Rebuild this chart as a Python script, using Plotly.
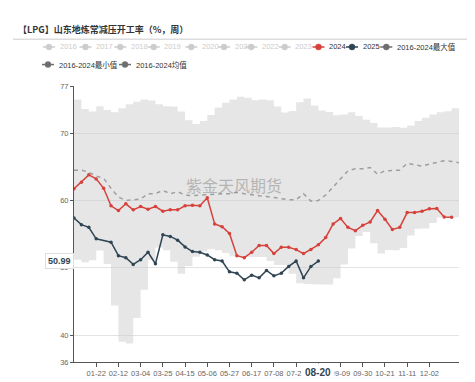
import plotly.graph_objects as go

# ---------------- data ----------------
weeks = list(range(53))  # weekly categories 01-01 ... 12-30

tick_idx = [3, 6, 9, 12, 15, 18, 21, 24, 27, 30, 33, 36, 39, 42, 45, 48]
tick_labels = ["01-22", "02-12", "03-04", "03-25", "04-15", "05-06", "05-27", "06-17",
               "07-08", "07-29", "", "09-09", "09-30", "10-21", "11-11", "12-02"]

max_2016_2024 = [75.0, 75.0, 72.2, 74.2, 73.8, 73.1, 73.1, 74.3, 74.3, 75.0,
                 75.0, 74.7, 73.9, 74.1, 73.8, 72.6, 71.2, 71.5, 72.1, 73.3,
                 74.3, 74.7, 75.3, 75.5, 75.0, 74.8, 75.2, 74.6, 73.3, 72.8,
                 73.8, 75.4, 74.9, 73.3, 73.4, 72.9, 72.4, 73.1, 73.1, 72.0,
                 72.0, 71.0, 70.7, 71.0, 70.8, 70.8, 71.5, 72.1, 72.5, 73.0,
                 73.2, 73.3, 74.1]

min_2016_2024 = [51.2, 51.2, 50.4, 51.8, 53.3, 47.8, 41.0, 37.0, 40.5, 44.6,
                 48.9, 53.4, 52.6, 52.6, 49.2, 49.0, 51.5, 51.8, 53.0, 52.6,
                 52.6, 51.8, 51.6, 51.6, 51.6, 51.6, 51.6, 50.4, 50.4, 50.4,
                 47.8, 47.6, 47.6, 47.5, 47.5, 47.5, 49.4, 51.6, 54.1, 55.3,
                 55.3, 52.0, 52.2, 53.1, 52.1, 53.8, 55.8, 55.8, 55.9, 57.4,
                 57.5, 57.5, 57.5]

avg_2016_2024 = [64.5, 64.5, 64.2, 63.6, 63.3, 61.8, 60.5, 60.0, 60.1, 60.2,
                 61.0, 61.0, 61.5, 61.0, 61.3, 60.8, 60.7, 60.8, 60.8, 60.9,
                 61.0, 61.0, 61.2, 61.0, 60.8, 60.7, 60.6, 60.4, 60.3, 60.1,
                 60.1, 61.0, 59.9, 60.0, 60.8, 62.0, 63.2, 64.4, 64.7, 64.7,
                 64.9, 63.9, 64.4, 64.4, 64.5, 65.5, 65.3, 65.1, 65.4, 65.7,
                 65.9, 65.8, 65.6]

y2024 = [61.75, 62.7, 63.8, 63.2, 61.8, 59.2, 58.5, 59.5, 58.6, 59.1,
         58.7, 59.1, 58.4, 58.6, 58.6, 59.2, 59.3, 59.2, 60.4, 56.5,
         56.1, 55.1, 51.8, 51.5, 52.3, 53.3, 53.3, 52.1, 53.05, 53.05,
         52.7, 52.1, 52.7, 53.4, 54.5, 56.5, 57.3, 56.0, 55.5, 56.3,
         56.8, 58.5, 57.2, 55.7, 56.0, 58.2, 58.2, 58.4, 58.75, 58.8,
         57.55, 57.5]

y2025 = [57.4, 56.4, 56.0, 54.3, None, 53.8, 51.8, 51.5, 50.5, 51.2,
         52.3, 50.6, 54.9, 54.65, 54.1, 53.1, 52.4, 52.3, 51.9, 51.2,
         51.0, 49.4, 49.2, 48.2, 48.9, 48.5, 49.6, 48.8, 49.2, 50.2,
         51.0, 48.5, 50.2, 50.99]

pointer_value = 50.99
pointer_label = "08-20"
pointer_index = 33

y_ticks = [36, 40, 50, 60, 70, 77]

legend_names = ["2016", "2017", "2018", "2019", "2020", "2021", "2022", "2023",
                "2024", "2025", "2016-2024最大值", "2016-2024最小值", "2016-2024均值"]

# ---------------- styling ----------------
RED = "#d6413b"
NAVY = "#2f4554"
DARK = "#6e6e6e"
OFF = "#cccccc"
legend_colors = [OFF] * 8 + [RED, NAVY, DARK, DARK, DARK]
legend_text_colors = [OFF] * 8 + ["#333333"] * 5
# symbol centres in pixels (layout only)
legend_cx = [41, 77.5, 112.3, 145.7, 183.3, 216, 243.3, 276.7, 310.5, 344, 378.3, 40, 117]
legend_cy = [38] * 11 + [56, 56]

W, H = 475, 382
ML, MR, MT, MB = 66, 24, 78, 21
PW, PH = W - ML - MR, H - MT - MB


def px(x):
    return (x - ML) / PW


def py(y):
    return (H - MB - y) / PH


TICKFONT = dict(family="Liberation Sans Narrow, Liberation Sans, Arial, sans-serif", size=7.5, color="#666666")
TXTFONT = "Liberation Sans Narrow, Liberation Sans, Noto Sans CJK SC, sans-serif"

fig = go.Figure()

# band: min (invisible) + max filled to min
fig.add_trace(go.Scatter(x=weeks, y=min_2016_2024, mode="lines",
                         line=dict(width=0, shape="vhv"), showlegend=False,
                         hoverinfo="skip", name="2016-2024最小值"))
fig.add_trace(go.Scatter(x=weeks, y=max_2016_2024, mode="lines",
                         line=dict(width=0, shape="vhv"), fill="tonexty",
                         fillcolor="rgba(200,200,200,0.45)", showlegend=False,
                         name="2016-2024最大值"))
fig.add_trace(go.Scatter(x=weeks, y=avg_2016_2024, mode="lines",
                         line=dict(color="#9e9e9e", width=1.5, dash="4px,4px"),
                         showlegend=False, name="2016-2024均值"))
fig.add_trace(go.Scatter(x=weeks[:len(y2024)], y=y2024, mode="lines+markers",
                         line=dict(color=RED, width=1.5),
                         marker=dict(size=3.5, color=RED), showlegend=False, name="2024"))
fig.add_trace(go.Scatter(x=weeks[:len(y2025)], y=y2025, mode="lines+markers",
                         connectgaps=True, line=dict(color=NAVY, width=1.5),
                         marker=dict(size=3.5, color=NAVY), showlegend=False, name="2025"))

shapes = []
annotations = []

# title + rule
annotations.append(dict(text="<b>【LPG】山东地炼常减压开工率（%，周）</b>", xref="paper", yref="paper",
                        x=px(8), y=py(20), xanchor="left", yanchor="middle", showarrow=False,
                        font=dict(family="Noto Sans CJK SC, sans-serif", size=9, color="#333333")))
shapes.append(dict(type="line", xref="paper", yref="paper", x0=px(5), x1=px(470),
                   y0=py(30), y1=py(30), line=dict(color="#cccccc", width=1)))

# hand-built legend
for name, col, tcol, cx, cy in zip(legend_names, legend_colors, legend_text_colors, legend_cx, legend_cy):
    shapes.append(dict(type="line", xref="paper", yref="paper", x0=px(cx - 6), x1=px(cx + 6),
                       y0=py(cy), y1=py(cy), line=dict(color=col, width=1.5)))
    shapes.append(dict(type="circle", xref="paper", yref="paper", xsizemode="pixel", ysizemode="pixel",
                       xanchor=px(cx), yanchor=py(cy), x0=-3, x1=3, y0=-3, y1=3,
                       fillcolor=col, line=dict(color=col, width=0.5)))
    annotations.append(dict(text=name, xref="paper", yref="paper", x=px(cx + 8.5), y=py(cy),
                            xanchor="left", yanchor="middle", showarrow=False,
                            font=dict(family=TXTFONT, size=7.5, color=tcol)))

# watermark
annotations.append(dict(text="紫金天风期货", xref="paper", yref="paper", x=px(226), y=py(180),
                        showarrow=False, font=dict(family="Noto Sans CJK SC, sans-serif", size=16,
                                                   color="rgba(130,130,130,0.5)")))

# axis pointer labels
annotations.append(dict(text="<b>%.2f</b>" % pointer_value, xref="paper", yref="y", x=px(51.7),
                        y=pointer_value, xanchor="center", yanchor="middle", showarrow=False,
                        bgcolor="white", bordercolor="#dddddd", borderwidth=1, borderpad=2,
                        font=dict(family=TXTFONT, size=9, color=NAVY)))
annotations.append(dict(text="<b>%s</b>" % pointer_label, xref="x", yref="paper", x=pointer_index,
                        y=py(372), xanchor="center", yanchor="middle", showarrow=False,
                        bgcolor="white", borderpad=3,
                        font=dict(family=TXTFONT, size=10, color=NAVY)))

fig.update_layout(
    width=W, height=H,
    margin=dict(l=ML, r=MR, t=MT, b=MB),
    paper_bgcolor="white", plot_bgcolor="white",
    showlegend=False,
    shapes=shapes, annotations=annotations,
    xaxis=dict(range=[0, 52], tickmode="array", tickvals=tick_idx, ticktext=tick_labels,
               tickangle=0, showgrid=False, zeroline=False, showline=True, linecolor="#555555",
               linewidth=1, ticks="outside", ticklen=4, tickcolor="#555555", tickfont=TICKFONT),
    yaxis=dict(range=[36, 77], tickmode="array", tickvals=y_ticks, showgrid=True,
               gridcolor="#e3e3e3", gridwidth=1, zeroline=False, showline=True,
               linecolor="#555555", linewidth=1, ticks="outside", ticklen=3,
               tickcolor="#555555", tickfont=TICKFONT),
)

fig.write_html("out.html")
